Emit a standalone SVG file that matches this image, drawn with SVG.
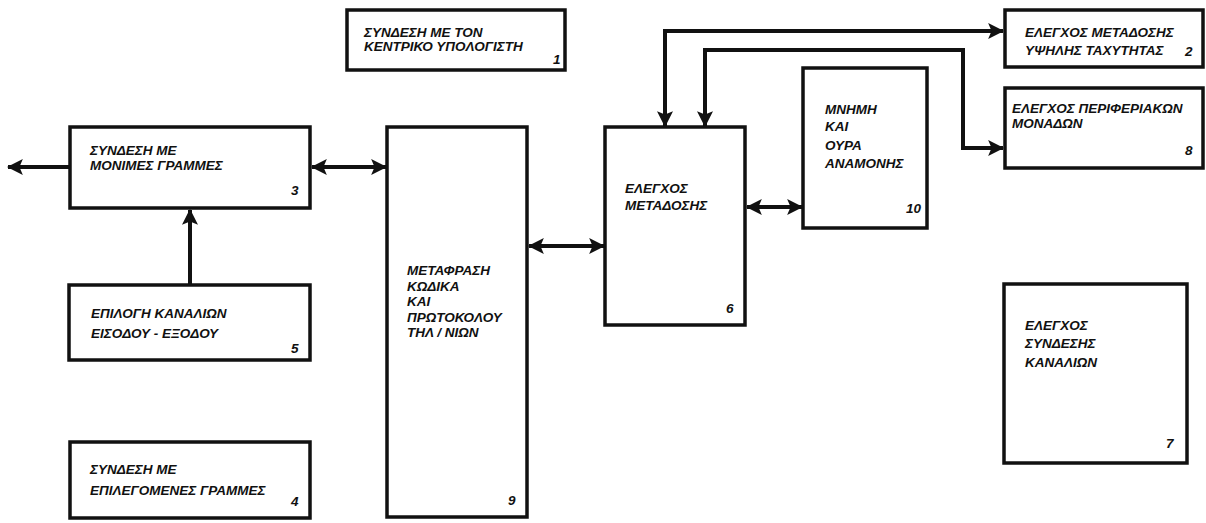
<svg xmlns="http://www.w3.org/2000/svg" width="1206" height="523" viewBox="0 0 1206 523">
  <style>
    .box { fill: #ffffff; stroke: #111111; stroke-width: 3.5; }
    .lbl { font-family: "Liberation Sans", "DejaVu Sans", sans-serif; font-style: italic; font-weight: bold; font-size: 13.5px; fill: #111111; }
    .num { font-family: "Liberation Sans", "DejaVu Sans", sans-serif; font-style: italic; font-weight: bold; font-size: 13.5px; fill: #111111; }
    .conn { fill: none; stroke: #111111; stroke-width: 4; }
  </style>
  <defs>
    <marker id="ah" viewBox="0 0 14 14" refX="13" refY="7" markerWidth="16" markerHeight="16" markerUnits="userSpaceOnUse" orient="auto-start-reverse">
      <path d="M0,0 L14,7 L0,14 L3,7 z" fill="#111111"/>
    </marker>
  </defs>
  <rect width="1206" height="523" fill="#ffffff"/>

  <g id="connectors">
    <line class="conn" x1="70" y1="167" x2="8" y2="167" marker-end="url(#ah)"/>
    <line class="conn" x1="312" y1="167" x2="386" y2="167" marker-start="url(#ah)" marker-end="url(#ah)"/>
    <line class="conn" x1="190" y1="284" x2="190" y2="210" marker-end="url(#ah)"/>
    <line class="conn" x1="529" y1="246" x2="604" y2="246" marker-start="url(#ah)" marker-end="url(#ah)"/>
    <line class="conn" x1="747" y1="207" x2="802" y2="207" marker-start="url(#ah)" marker-end="url(#ah)"/>
    <path class="conn" d="M665,126 V31 H1003" marker-start="url(#ah)" marker-end="url(#ah)"/>
    <path class="conn" d="M705,126 V50 H963 V148 H1003" marker-start="url(#ah)" marker-end="url(#ah)"/>
  </g>

  <g id="node1">
    <rect class="box" x="347" y="10" width="218" height="60"/>
    <text class="lbl" x="364" y="37">ΣΥΝΔΕΣΗ ΜΕ ΤΟΝ</text>
    <text class="lbl" x="364" y="51">ΚΕΝΤΡΙΚΟ ΥΠΟΛΟΓΙΣΤΗ</text>
    <text class="num" x="553" y="64">1</text>
  </g>

  <g id="node2">
    <rect class="box" x="1005" y="10" width="198" height="57"/>
    <text class="lbl" x="1025" y="37">ΕΛΕΓΧΟΣ ΜΕΤΑΔΟΣΗΣ</text>
    <text class="lbl" x="1025" y="55">ΥΨΗΛΗΣ ΤΑΧΥΤΗΤΑΣ</text>
    <text class="num" x="1185" y="56">2</text>
  </g>

  <g id="node3">
    <rect class="box" x="70" y="127" width="240" height="81"/>
    <text class="lbl" x="90" y="155">ΣΥΝΔΕΣΗ ΜΕ</text>
    <text class="lbl" x="90" y="170">ΜΟΝΙΜΕΣ ΓΡΑΜΜΕΣ</text>
    <text class="num" x="291" y="195">3</text>
  </g>

  <g id="node4">
    <rect class="box" x="70" y="442" width="240" height="76"/>
    <text class="lbl" x="90" y="474">ΣΥΝΔΕΣΗ ΜΕ</text>
    <text class="lbl" x="90" y="495">ΕΠΙΛΕΓΟΜΕΝΕΣ ΓΡΑΜΜΕΣ</text>
    <text class="num" x="291" y="506">4</text>
  </g>

  <g id="node5">
    <rect class="box" x="69" y="285" width="241" height="75"/>
    <text class="lbl" x="91" y="318">ΕΠΙΛΟΓΗ ΚΑΝΑΛΙΩΝ</text>
    <text class="lbl" x="91" y="338">ΕΙΣΟΔΟΥ - ΕΞΟΔΟΥ</text>
    <text class="num" x="291" y="353">5</text>
  </g>

  <g id="node6">
    <rect class="box" x="605" y="127" width="140" height="198"/>
    <text class="lbl" x="625" y="193">ΕΛΕΓΧΟΣ</text>
    <text class="lbl" x="625" y="210">ΜΕΤΑΔΟΣΗΣ</text>
    <text class="num" x="726" y="313">6</text>
  </g>

  <g id="node7">
    <rect class="box" x="1004" y="284" width="183" height="179"/>
    <text class="lbl" x="1025" y="330">ΕΛΕΓΧΟΣ</text>
    <text class="lbl" x="1025" y="348">ΣΥΝΔΕΣΗΣ</text>
    <text class="lbl" x="1025" y="367">ΚΑΝΑΛΙΩΝ</text>
    <text class="num" x="1166" y="448">7</text>
  </g>

  <g id="node8">
    <rect class="box" x="1005" y="88" width="198" height="80"/>
    <text class="lbl" x="1012" y="113">ΕΛΕΓΧΟΣ ΠΕΡΙΦΕΡΙΑΚΩΝ</text>
    <text class="lbl" x="1012" y="128">ΜΟΝΑΔΩΝ</text>
    <text class="num" x="1185" y="155">8</text>
  </g>

  <g id="node9">
    <rect class="box" x="387" y="127" width="140" height="390"/>
    <text class="lbl" x="407" y="275">ΜΕΤΑΦΡΑΣΗ</text>
    <text class="lbl" x="407" y="291">ΚΩΔΙΚΑ</text>
    <text class="lbl" x="407" y="306">ΚΑΙ</text>
    <text class="lbl" x="407" y="322">ΠΡΩΤΟΚΟΛΟΥ</text>
    <text class="lbl" x="407" y="337">ΤΗΛ / ΝΙΩΝ</text>
    <text class="num" x="508" y="505">9</text>
  </g>

  <g id="node10">
    <rect class="box" x="803" y="68" width="124" height="160"/>
    <text class="lbl" x="825" y="114">ΜΝΗΜΗ</text>
    <text class="lbl" x="825" y="131">ΚΑΙ</text>
    <text class="lbl" x="825" y="150">ΟΥΡΑ</text>
    <text class="lbl" x="825" y="168">ΑΝΑΜΟΝΗΣ</text>
    <text class="num" x="906" y="213">10</text>
  </g>
</svg>
